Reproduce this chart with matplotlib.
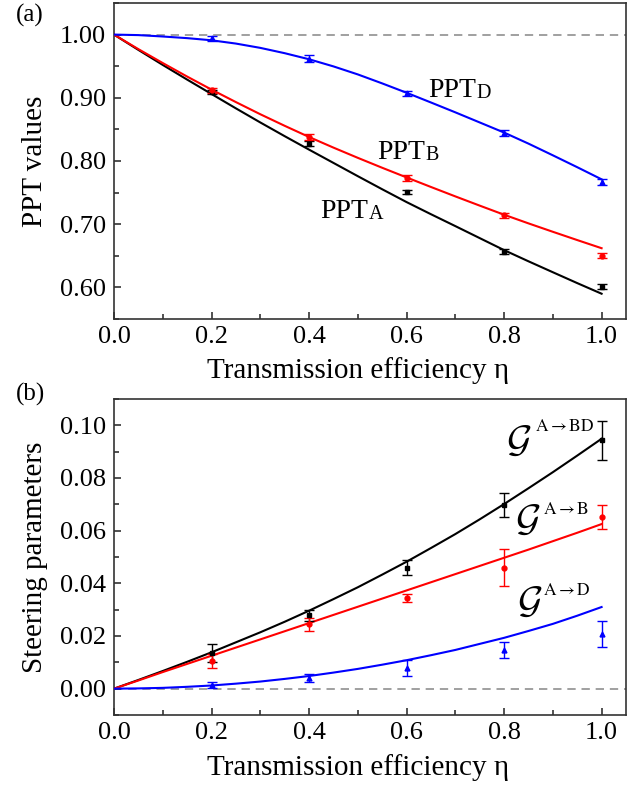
import matplotlib
matplotlib.use("Agg")
import matplotlib.pyplot as plt
from matplotlib.ticker import MultipleLocator, FormatStrFormatter

plt.rcParams['font.family'] = ['Liberation Serif', 'DejaVu Serif']
plt.rcParams['mathtext.fontset'] = 'cm'

# ---- data ----
eta = [0.2, 0.4, 0.6, 0.8, 1.0]
eta_curve = [0.0, 0.05, 0.1, 0.15, 0.2, 0.25, 0.3, 0.35, 0.4, 0.45, 0.5,
             0.55, 0.6, 0.65, 0.7, 0.75, 0.8, 0.85, 0.9, 0.95, 1.0]

ppt_a = [0.909, 0.827, 0.751, 0.6565, 0.601]
ppt_a_err = [0.0037, 0.0040, 0.0037, 0.0037, 0.0037]
ppt_b = [0.912, 0.838, 0.7735, 0.714, 0.650]
ppt_b_err = [0.0040, 0.0047, 0.0045, 0.0045, 0.0040]
ppt_d = [0.994, 0.962, 0.907, 0.8445, 0.7665]
ppt_d_err = [0.0045, 0.0058, 0.0042, 0.0050, 0.0050]

curve_ppt_a = [1.0, 0.9758, 0.952, 0.9288, 0.906, 0.8833, 0.861, 0.8393, 0.818,
               0.797, 0.776, 0.7553, 0.735, 0.7158, 0.697, 0.678, 0.659,
               0.6413, 0.624, 0.6068, 0.590]
curve_ppt_b = [1.0, 0.977, 0.955, 0.9336, 0.913, 0.8932, 0.874, 0.8557, 0.838,
               0.8212, 0.805, 0.7893, 0.774, 0.7589, 0.744, 0.7294, 0.715,
               0.7013, 0.688, 0.6749, 0.662]
curve_ppt_d = [1.0, 0.9992, 0.997, 0.9944, 0.991, 0.9858, 0.979, 0.9706, 0.961,
               0.9497, 0.937, 0.9228, 0.908, 0.8926, 0.877, 0.861, 0.845,
               0.8275, 0.809, 0.7902, 0.771]

g_bd = [0.0136, 0.0278, 0.0459, 0.0698, 0.0943]
g_bd_err = [0.0035, 0.0020, 0.0028, 0.0046, 0.0074]
g_b = [0.0104, 0.0245, 0.0345, 0.0459, 0.0653]
g_b_err = [0.0027, 0.0025, 0.0015, 0.0071, 0.0045]
g_d = [0.0015, 0.0041, 0.0078, 0.0148, 0.0208]
g_d_err = [0.0012, 0.0015, 0.0030, 0.0030, 0.0049]

curve_g_bd = [0.0, 0.0033, 0.0067, 0.0102, 0.0138, 0.0176, 0.0214, 0.0254, 0.0296,
              0.0340, 0.0385, 0.0433, 0.0482, 0.0534, 0.0587, 0.0643, 0.0701,
              0.0761, 0.0822, 0.0885, 0.0949]
curve_g_b = [0.0, 0.0031, 0.0063, 0.0094, 0.0125, 0.0156, 0.0187, 0.0218, 0.0249,
             0.0280, 0.0311, 0.0342, 0.0373, 0.0404, 0.0435, 0.0466, 0.0497,
             0.0528, 0.0560, 0.0592, 0.0625]
curve_g_d = [0.0, 0.0001, 0.0003, 0.0007, 0.0012, 0.0019, 0.0027, 0.0037, 0.0048,
             0.0061, 0.0075, 0.0091, 0.0108, 0.0127, 0.0147, 0.0170, 0.0193,
             0.0219, 0.0246, 0.0277, 0.0310]

BLACK, RED, BLUE = '#000000', '#ff0000', '#0000ff'

fig = plt.figure(figsize=(6.44, 7.89), dpi=100)
ax1 = fig.add_axes([0.177, 0.5957, 0.795, 0.4005])
ax2 = fig.add_axes([0.177, 0.0938, 0.795, 0.4005])


def style(ax, ymajor, yminor):
    ax.set_xlim(0, 1.05)
    ax.xaxis.set_major_locator(MultipleLocator(0.2))
    ax.xaxis.set_minor_locator(MultipleLocator(0.1))
    ax.yaxis.set_major_locator(MultipleLocator(ymajor))
    ax.yaxis.set_minor_locator(MultipleLocator(yminor))
    ax.xaxis.set_major_formatter(FormatStrFormatter('%.1f'))
    ax.yaxis.set_major_formatter(FormatStrFormatter('%.2f'))
    ax.tick_params(which='both', direction='in', top=False, right=False,
                   width=1.1, color='#222222')
    ax.tick_params(which='major', length=5, labelsize=19)
    ax.tick_params(which='minor', length=3.5)
    ax.tick_params(axis='x', which='major', pad=5)
    ax.tick_params(axis='y', which='major', pad=6)
    for s in ax.spines.values():
        s.set_linewidth(1.2)
        s.set_color('#333333')
    ax.set_xlabel('Transmission efficiency η', fontsize=21)


def draw(ax, x, y, e, cx, cy, color, marker):
    ax.plot(cx, cy, color=color, lw=1.5, zorder=3)
    ax.errorbar(x, y, yerr=e, fmt=marker, color=color, ms=3.5, lw=1.0,
                capsize=3.5, capthick=1.0, zorder=4)


# ---- panel (a) ----
ax1.axhline(1.0, color='#909090', lw=1.2, ls=(0, (5, 3.5)), zorder=1)
draw(ax1, eta, ppt_a, ppt_a_err, eta_curve, curve_ppt_a, BLACK, 's')
draw(ax1, eta, ppt_b, ppt_b_err, eta_curve, curve_ppt_b, RED, 'o')
draw(ax1, eta, ppt_d, ppt_d_err, eta_curve, curve_ppt_d, BLUE, '^')
ax1.set_ylim(0.55, 1.05)
style(ax1, 0.1, 0.05)
ax1.set_ylabel('PPT values', fontsize=21)
ax1.yaxis.set_label_coords(-0.128, 0.5)
ax1.xaxis.set_label_coords(0.476, -0.12)

for (lx, ly, sub) in [(0.645, 0.901, 'D'), (0.5396, 0.8024, 'B'), (0.4236, 0.7104, 'A')]:
    t = ax1.text(lx, ly, 'PPT', fontsize=20, ha='left', va='baseline')
    ax1.annotate(sub, xy=(1.0, 0.0), xycoords=t, fontsize=14.5,
                 ha='left', va='bottom')

# ---- panel (b) ----
ax2.axhline(0.0, color='#909090', lw=1.2, ls=(0, (5, 3.5)), zorder=1)
draw(ax2, eta, g_bd, g_bd_err, eta_curve, curve_g_bd, BLACK, 's')
draw(ax2, eta, g_b, g_b_err, eta_curve, curve_g_b, RED, 'o')
draw(ax2, eta, g_d, g_d_err, eta_curve, curve_g_d, BLUE, '^')
ax2.set_ylim(-0.01, 0.11)
style(ax2, 0.02, 0.01)
ax2.set_ylabel('Steering parameters', fontsize=21)
ax2.yaxis.set_label_coords(-0.128, 0.5)
ax2.xaxis.set_label_coords(0.476, -0.123)

for (gx, gy, sx, sy, sup) in [(0.803, 0.0900, 0.8633, 0.0978, r'$\mathrm{A{\rightarrow}BD}$'),
                              (0.823, 0.0600, 0.879, 0.0662, r'$\mathrm{A{\rightarrow}B}$'),
                              (0.826, 0.0288, 0.879, 0.0357, r'$\mathrm{A{\rightarrow}D}$')]:
    ax2.text(gx, gy, r'$\mathcal{G}$', fontsize=28, ha='left', va='baseline')
    ax2.text(sx, sy, sup, fontsize=12.5, ha='left', va='baseline',
             math_fontfamily='stix')

fig.text(16 / 644, 1 - 4 / 789, '(a)', fontsize=18, ha='left', va='top')
fig.text(16 / 644, 1 - 383 / 789, '(b)', fontsize=18, ha='left', va='top')

fig.savefig('out.png', dpi=100)
